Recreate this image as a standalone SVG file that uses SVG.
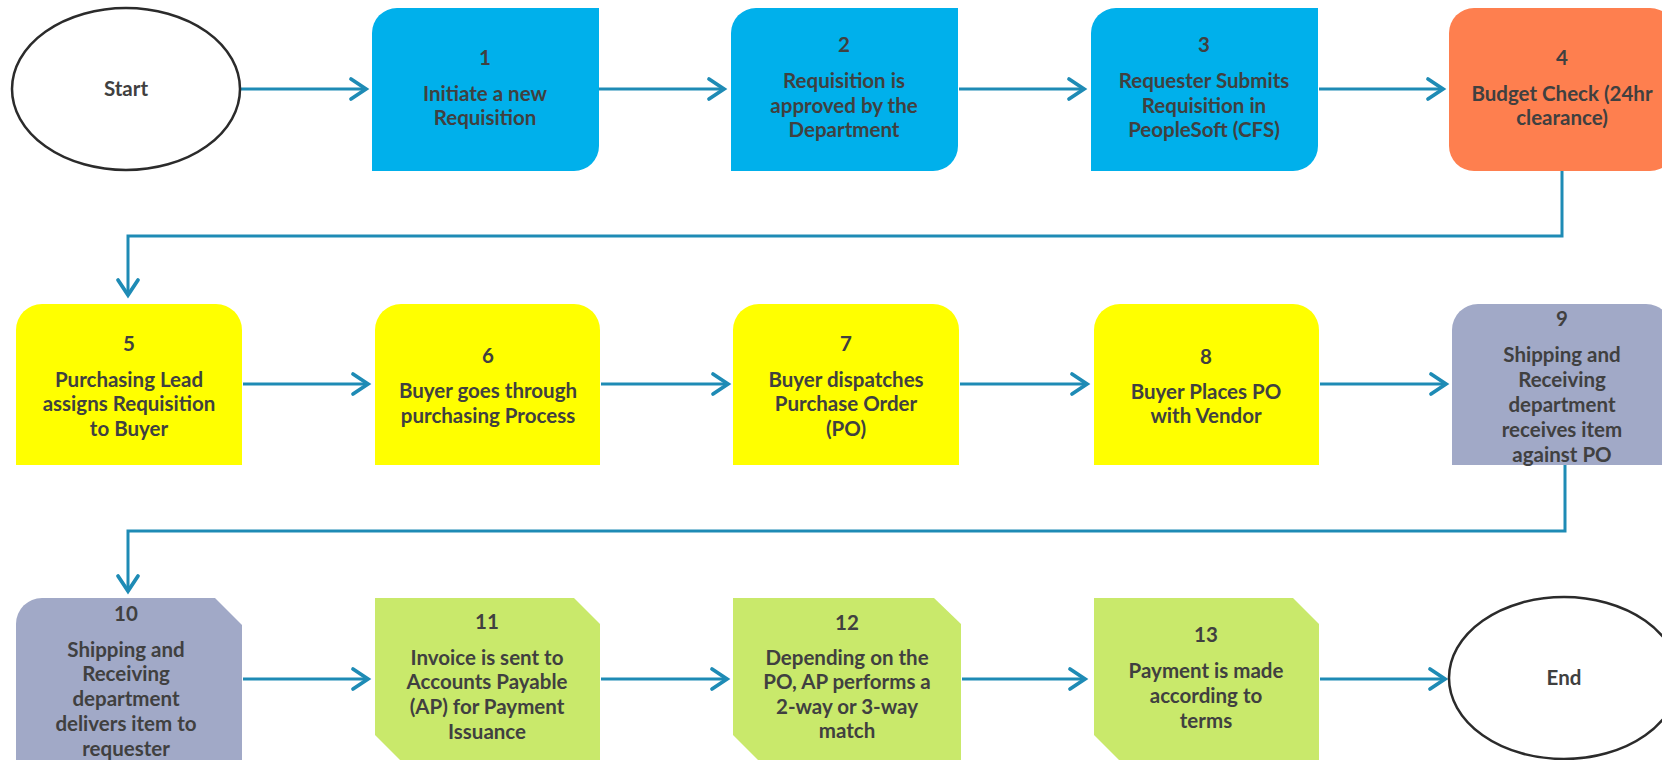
<svg xmlns="http://www.w3.org/2000/svg" width="1662" height="760" viewBox="0 0 1662 760">
<style>
text{font-family:Lato,"Open Sans","Liberation Sans",sans-serif;font-weight:700;font-size:20.5px;fill:#404040;text-anchor:middle}
.blue{fill:#00B0EB}
.orange{fill:#FE7F4F}
.yellow{fill:#FFFF00}
.grey{fill:#A1A9C7}
.green{fill:#C9E96B}
.term{fill:#ffffff;stroke:#2b2b2b;stroke-width:2.5}
.conn{fill:none;stroke:#1E8BB5;stroke-width:3}
</style>
<defs>
<marker id="arr" markerUnits="userSpaceOnUse" markerWidth="30" markerHeight="30" refX="0" refY="0" viewBox="-16 -12 20 24" orient="auto" overflow="visible">
<path d="M-12,-8 L0,0 L-12,8" fill="none" stroke="#1E8BB5" stroke-width="3" stroke-linecap="round" stroke-linejoin="miter"/>
</marker>
</defs>
<rect x="0" y="0" width="1662" height="760" fill="#ffffff"/>
<g id="connectors">
<path class="conn" marker-end="url(#arr)" d="M240,89 H366"/>
<path class="conn" marker-end="url(#arr)" d="M599,89 H724"/>
<path class="conn" marker-end="url(#arr)" d="M959,89 H1084"/>
<path class="conn" marker-end="url(#arr)" d="M1319,89 H1443"/>
<path class="conn" marker-end="url(#arr)" d="M1562,171 V236 H128 V295"/>
<path class="conn" marker-end="url(#arr)" d="M243,384 H368"/>
<path class="conn" marker-end="url(#arr)" d="M601,384 H728"/>
<path class="conn" marker-end="url(#arr)" d="M960,384 H1087"/>
<path class="conn" marker-end="url(#arr)" d="M1320,384 H1446"/>
<path class="conn" marker-end="url(#arr)" d="M1565,465 V531 H128 V591"/>
<path class="conn" marker-end="url(#arr)" d="M243,679 H368"/>
<path class="conn" marker-end="url(#arr)" d="M601,679 H727"/>
<path class="conn" marker-end="url(#arr)" d="M962,679 H1085"/>
<path class="conn" marker-end="url(#arr)" d="M1320,679 H1445"/>
</g>
<g id="start">
<ellipse class="term" cx="126" cy="89" rx="114" ry="81"/>
<text x="126" y="96">Start</text>
</g>
<g id="n1">
<path class="blue" d="M372,33 A25,25 0 0 1 397,8 H599 V146 A25,25 0 0 1 574,171 H372 Z"/>
<text x="485" y="65">1</text>
<text x="485" y="101">Initiate a new</text>
<text x="485" y="125">Requisition</text>
</g>
<g id="n2">
<path class="blue" d="M731,33 A25,25 0 0 1 756,8 H958 V146 A25,25 0 0 1 933,171 H731 Z"/>
<text x="844" y="52">2</text>
<text x="844" y="88">Requisition is</text>
<text x="844" y="113">approved by the</text>
<text x="844" y="137">Department</text>
</g>
<g id="n3">
<path class="blue" d="M1091,33 A25,25 0 0 1 1116,8 H1318 V146 A25,25 0 0 1 1293,171 H1091 Z"/>
<text x="1204" y="52">3</text>
<text x="1204" y="88">Requester Submits</text>
<text x="1204" y="113">Requisition in</text>
<text x="1204" y="137">PeopleSoft (CFS)</text>
</g>
<g id="n4">
<rect class="orange" x="1449" y="8" width="226" height="163" rx="25" ry="25"/>
<text x="1562" y="65">4</text>
<text x="1562" y="101">Budget Check (24hr</text>
<text x="1562" y="125">clearance)</text>
</g>
<g id="n5">
<path class="yellow" d="M16,330 A26,26 0 0 1 42,304 H216 A26,26 0 0 1 242,330 V465 H16 Z"/>
<text x="129" y="351">5</text>
<text x="129" y="387">Purchasing Lead</text>
<text x="129" y="411">assigns Requisition</text>
<text x="129" y="436">to Buyer</text>
</g>
<g id="n6">
<path class="yellow" d="M375,330 A26,26 0 0 1 401,304 H574 A26,26 0 0 1 600,330 V465 H375 Z"/>
<text x="488" y="363">6</text>
<text x="488" y="398">Buyer goes through</text>
<text x="488" y="423">purchasing Process</text>
</g>
<g id="n7">
<path class="yellow" d="M733,330 A26,26 0 0 1 759,304 H933 A26,26 0 0 1 959,330 V465 H733 Z"/>
<text x="846" y="351">7</text>
<text x="846" y="387">Buyer dispatches</text>
<text x="846" y="411">Purchase Order</text>
<text x="846" y="436">(PO)</text>
</g>
<g id="n8">
<path class="yellow" d="M1094,330 A26,26 0 0 1 1120,304 H1293 A26,26 0 0 1 1319,330 V465 H1094 Z"/>
<text x="1206" y="364">8</text>
<text x="1206" y="399">Buyer Places PO</text>
<text x="1206" y="423">with Vendor</text>
</g>
<g id="n9">
<path class="grey" d="M1452,330 A26,26 0 0 1 1478,304 H1646 A26,26 0 0 1 1672,330 V465 H1452 Z"/>
<text x="1562" y="326">9</text>
<text x="1562" y="362">Shipping and</text>
<text x="1562" y="387">Receiving</text>
<text x="1562" y="412">department</text>
<text x="1562" y="437">receives item</text>
<text x="1562" y="462">against PO</text>
</g>
<g id="n10">
<path class="grey" d="M16,624 A26,26 0 0 1 42,598 H215 L242,625 V770 H16 Z"/>
<text x="126" y="621">10</text>
<text x="126" y="657">Shipping and</text>
<text x="126" y="681">Receiving</text>
<text x="126" y="706">department</text>
<text x="126" y="731">delivers item to</text>
<text x="126" y="756">requester</text>
</g>
<g id="n11">
<path class="green" d="M375,598 H574 L600,624 V761 H401 L375,735 Z"/>
<text x="487" y="629">11</text>
<text x="487" y="665">Invoice is sent to</text>
<text x="487" y="689">Accounts Payable</text>
<text x="487" y="714">(AP) for Payment</text>
<text x="487" y="739">Issuance</text>
</g>
<g id="n12">
<path class="green" d="M733,598 H934 L961,624 V761 H759 L733,735 Z"/>
<text x="847" y="630">12</text>
<text x="847" y="665">Depending on the</text>
<text x="847" y="689">PO, AP performs a</text>
<text x="847" y="714">2-way or 3-way</text>
<text x="847" y="738">match</text>
</g>
<g id="n13">
<path class="green" d="M1094,598 H1293 L1319,624 V761 H1120 L1094,735 Z"/>
<text x="1206" y="642">13</text>
<text x="1206" y="678">Payment is made</text>
<text x="1206" y="703">according to</text>
<text x="1206" y="728">terms</text>
</g>
<g id="end">
<ellipse class="term" cx="1564" cy="678" rx="115" ry="81"/>
<text x="1564" y="685">End</text>
</g>
</svg>
